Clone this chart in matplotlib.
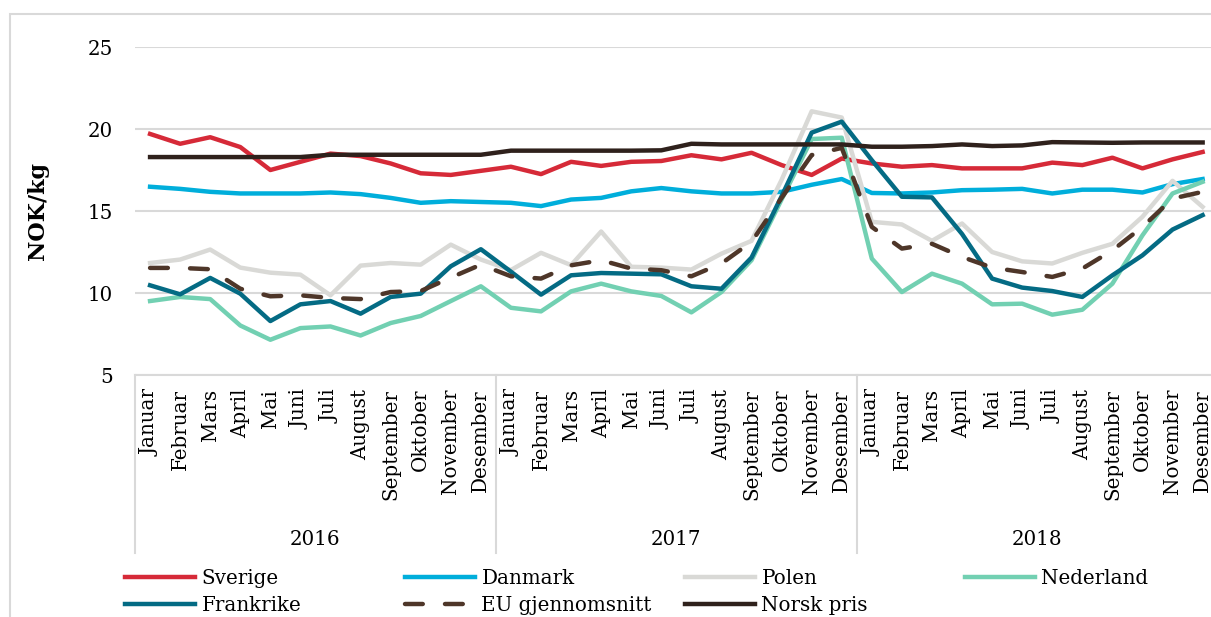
import matplotlib
matplotlib.use("Agg")
import matplotlib.pyplot as plt
from matplotlib.lines import Line2D
from matplotlib.patches import Rectangle
from matplotlib import transforms

# month labels (norwegian) and years
months = ["Januar", "Februar", "Mars", "April", "Mai", "Juni", "Juli", "August",
          "September", "Oktober", "November", "Desember"]
years = ["2016", "2017", "2018"]

# NOK/kg, Jan 2016 .. Des 2018
sverige = [19.7, 19.1, 19.5, 18.9, 17.5, 18.0, 18.5, 18.35, 17.9, 17.3, 17.2, 17.45,
           17.7, 17.25, 18.0, 17.75, 18.0, 18.05, 18.4, 18.15, 18.55, 17.8, 17.2, 18.2,
           17.9, 17.7, 17.8, 17.6, 17.6, 17.6, 17.95, 17.8, 18.25, 17.6, 18.15, 18.6]
danmark = [16.48, 16.35, 16.17, 16.07, 16.07, 16.07, 16.13, 16.03, 15.8, 15.5, 15.6, 15.55,
           15.5, 15.3, 15.7, 15.8, 16.2, 16.4, 16.2, 16.07, 16.07, 16.17, 16.6, 16.95,
           16.1, 16.07, 16.13, 16.27, 16.3, 16.35, 16.07, 16.3, 16.3, 16.13, 16.64, 16.95]
polen = [11.83, 12.04, 12.65, 11.55, 11.24, 11.12, 9.86, 11.67, 11.83, 11.73, 12.95, 12.04,
         11.4, 12.45, 11.7, 13.75, 11.6, 11.55, 11.43, 12.4, 13.18, 16.9, 21.08, 20.7,
         14.34, 14.18, 13.18, 14.24, 12.5, 11.93, 11.8, 12.45, 13.0, 14.65, 16.84, 15.25]
nederland = [9.51, 9.76, 9.63, 8.02, 7.15, 7.86, 7.96, 7.41, 8.17, 8.6, 9.51, 10.41,
             9.1, 8.88, 10.1, 10.57, 10.1, 9.82, 8.82, 10.06, 12.0, 15.7, 19.39, 19.47,
             12.1, 10.06, 11.18, 10.57, 9.31, 9.35, 8.68, 8.98, 10.57, 13.52, 16.07, 16.78]
frankrike = [10.47, 9.92, 10.92, 9.96, 8.29, 9.31, 9.51, 8.74, 9.76, 9.96, 11.63, 12.67,
             11.3, 9.9, 11.08, 11.22, 11.18, 11.14, 10.41, 10.26, 12.16, 15.9, 19.78, 20.45,
             18.1, 15.87, 15.83, 13.6, 10.88, 10.33, 10.12, 9.76, 11.08, 12.3, 13.87, 14.75]
eu_snitt = [11.53, 11.53, 11.45, 10.26, 9.8, 9.86, 9.7, 9.63, 10.06, 10.12, 10.94, 11.73,
            11.02, 10.88, 11.69, 12.0, 11.49, 11.39, 11.02, 11.8, 13.12, 15.8, 18.41, 18.85,
            14.03, 12.71, 13.0, 12.2, 11.55, 11.28, 10.98, 11.49, 12.6, 14.03, 15.76, 16.17]
norsk = [18.29, 18.29, 18.29, 18.29, 18.29, 18.29, 18.43, 18.43, 18.43, 18.43, 18.43, 18.43,
         18.68, 18.68, 18.68, 18.68, 18.68, 18.7, 19.1, 19.06, 19.06, 19.06, 19.06, 19.06,
         18.92, 18.92, 18.96, 19.06, 18.96, 19.0, 19.2, 19.18, 19.16, 19.18, 19.18, 19.18]

plt.rcParams['font.family'] = ['DejaVu Serif']
FS = 14.3
GRID = "#d9d9d9"

fig = plt.figure(figsize=(12.11, 6.17), dpi=100)
# axes runs a bit past the right edge, like the original cut-off chart
ax = fig.add_axes([0.1115, 0.3922, 0.894, 0.5316])

x = list(range(len(sverige)))
series = [
    ("Sverige", sverige, "#d62a38", "-"),
    ("Danmark", danmark, "#00aedb", "-"),
    ("Polen", polen, "#d9d9d6", "-"),
    ("Nederland", nederland, "#72d0b2", "-"),
    ("Frankrike", frankrike, "#046b84", "-"),
    ("EU gjennomsnitt", eu_snitt, "#4e3629", "--"),
    ("Norsk pris", norsk, "#2f211c", "-"),
]
handles = {}
for name, vals, col, ls in series:
    if ls == "--":
        ln, = ax.plot(x, vals, color=col, lw=3.2, dashes=(4, 5), dash_capstyle="round", label=name)
    else:
        ln, = ax.plot(x, vals, color=col, lw=3.2, label=name)
    handles[name] = ln

ax.set_ylim(5, 25)
ax.set_yticks([5, 10, 15, 20, 25])
ax.set_xlim(-0.5, len(x) - 0.5)
ax.grid(axis="y", color=GRID, lw=1.5)
ax.set_axisbelow(True)
for s in ["top", "right", "left"]:
    ax.spines[s].set_visible(False)
ax.spines["bottom"].set_color(GRID)
ax.spines["bottom"].set_linewidth(1.5)

ax.set_xticks(x)
ax.set_xticklabels(months * len(years), rotation=90, fontsize=FS)
ax.tick_params(axis="x", length=0, pad=10)
ax.tick_params(axis="y", length=0, pad=16, labelsize=FS)
ax.set_ylabel("NOK/kg", fontsize=16, fontweight="bold", labelpad=28)

# year grouping under the month labels
trans = transforms.blended_transform_factory(ax.transData, ax.transAxes)
for i in range(len(years) + 1):
    ax.plot([i * 12 - 0.5] * 2, [0, -0.543], transform=trans, color=GRID, lw=1.5, clip_on=False)
for i, yr in enumerate(years):
    ax.text(i * 12 + 5.5, -0.5, yr, transform=trans, ha="center", va="center", fontsize=FS)

# legend laid out in even columns (4 small legends)
cols = [["Sverige", "Frankrike"], ["Danmark", "EU gjennomsnitt"], ["Polen", "Norsk pris"], ["Nederland"]]
col_x = [125, 405, 685, 965]
for names, cx in zip(cols, col_x):
    fig.legend([handles[n] for n in names], names, loc="upper left",
               bbox_to_anchor=(cx / 1211, 1 - 569 / 617), frameon=False, fontsize=FS,
               handlelength=3.5, handletextpad=0.35, labelspacing=0.42, borderpad=0,
               borderaxespad=0)

# chart area border
fig.add_artist(Rectangle((10 / 1211, -0.2), 1.2, 1.2 - 14 / 617, transform=fig.transFigure,
                         fill=False, edgecolor=GRID, lw=1.5, clip_on=False))

fig.savefig("out.png", dpi=100)
